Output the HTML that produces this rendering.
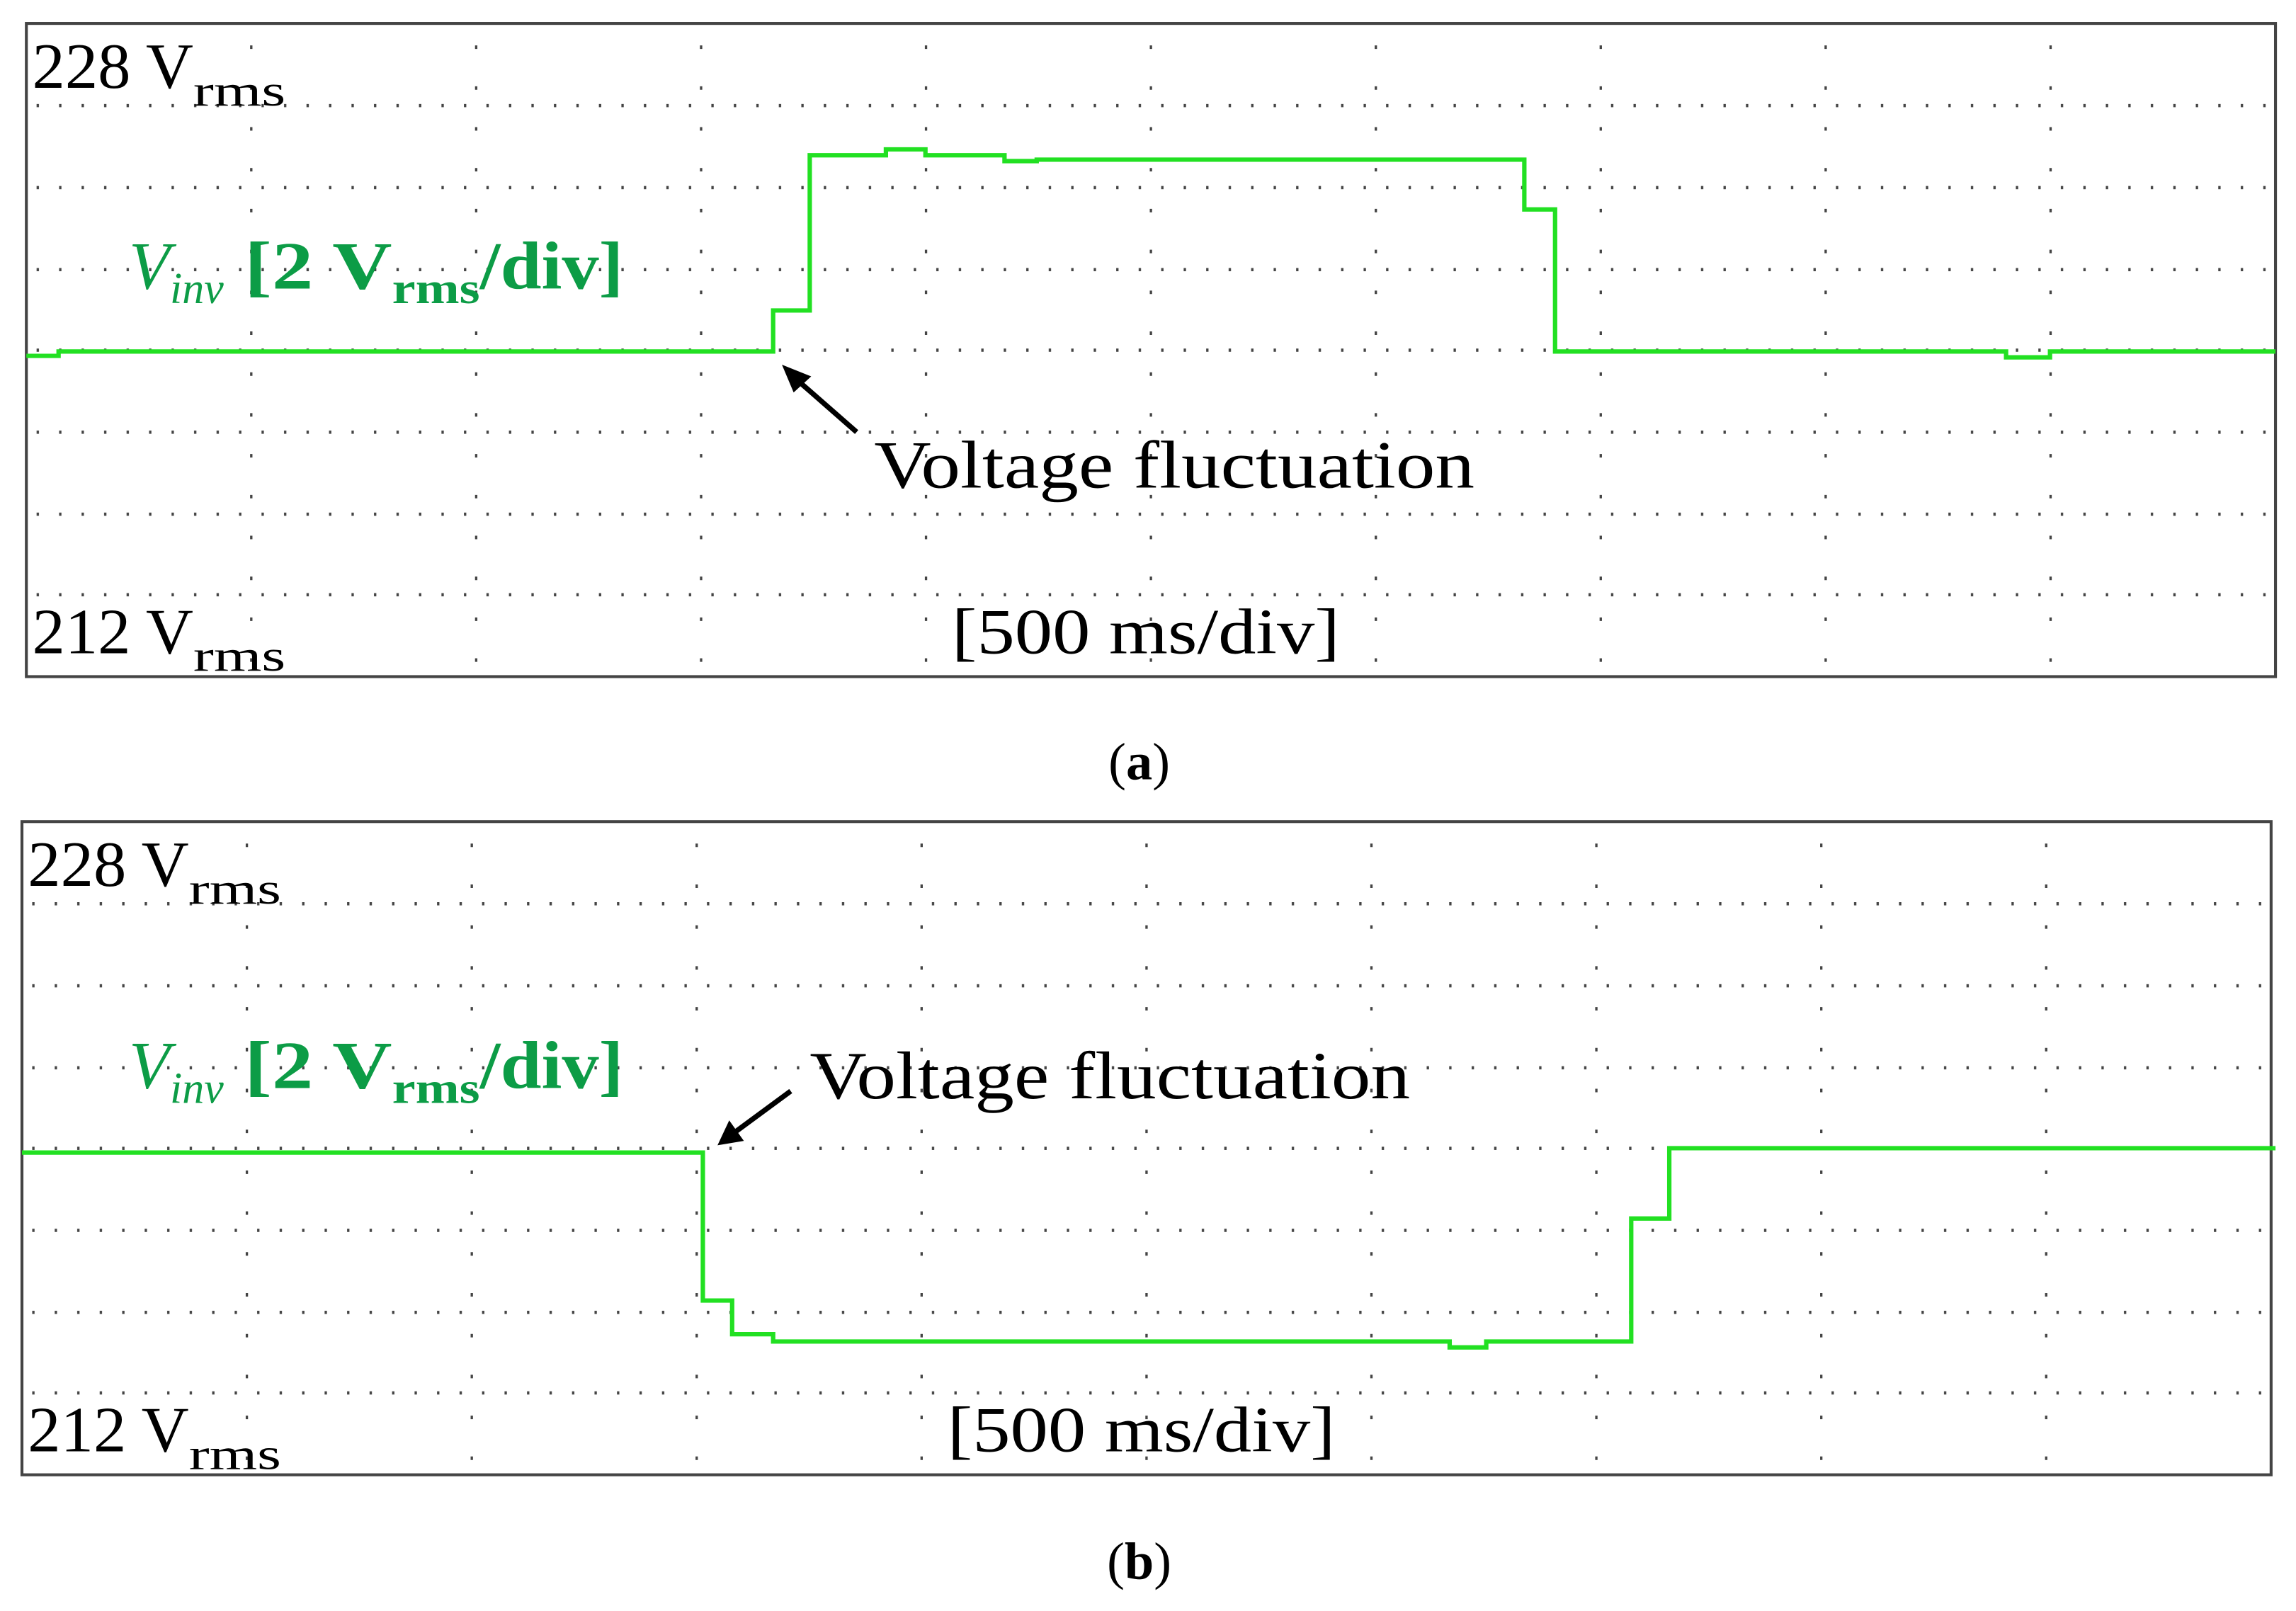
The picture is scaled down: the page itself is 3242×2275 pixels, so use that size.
<!DOCTYPE html>
<html><head><meta charset="utf-8"><style>
html,body{margin:0;padding:0;background:#fff;}
svg{display:block;}
text{font-family:"Liberation Serif",serif;}
</style></head><body>
<svg width="3242" height="2275" viewBox="0 0 1568 1100" preserveAspectRatio="none" xmlns="http://www.w3.org/2000/svg">
<defs>
<pattern id="hd" x="18" y="0" width="15.36" height="1100" patternUnits="userSpaceOnUse">
<rect x="7" y="0" width="1.6" height="1100" fill="#444"/>
</pattern>
<g id="grid">
<g>
<rect x="20" y="71" width="1532" height="2.2" fill="url(#hd)"/>
<rect x="20" y="127" width="1532" height="2.2" fill="url(#hd)"/>
<rect x="20" y="183" width="1532" height="2.2" fill="url(#hd)"/>
<rect x="20" y="238" width="1532" height="2.2" fill="url(#hd)"/>
<rect x="20" y="294" width="1532" height="2.2" fill="url(#hd)"/>
<rect x="20" y="350" width="1532" height="2.2" fill="url(#hd)"/>
<rect x="20" y="405" width="1532" height="2.2" fill="url(#hd)"/>
</g>
<g stroke="#444" stroke-width="1.6" stroke-dasharray="2.4 25.5" stroke-dashoffset="-15">
<line x1="171.6" y1="16" x2="171.6" y2="462"/>
<line x1="325.2" y1="16" x2="325.2" y2="462"/>
<line x1="478.8" y1="16" x2="478.8" y2="462"/>
<line x1="632.4" y1="16" x2="632.4" y2="462"/>
<line x1="786" y1="16" x2="786" y2="462"/>
<line x1="939.6" y1="16" x2="939.6" y2="462"/>
<line x1="1093.2" y1="16" x2="1093.2" y2="462"/>
<line x1="1246.8" y1="16" x2="1246.8" y2="462"/>
<line x1="1400.4" y1="16" x2="1400.4" y2="462"/>
</g>
<rect x="18" y="16" width="1536" height="446" fill="none" stroke="#444" stroke-width="2"/>
<text x="22" y="60" font-size="44"><tspan textLength="110" lengthAdjust="spacingAndGlyphs">228 V</tspan><tspan font-size="30" dy="12" textLength="63" lengthAdjust="spacingAndGlyphs">rms</tspan></text>
<text x="22" y="446" font-size="44"><tspan textLength="110" lengthAdjust="spacingAndGlyphs">212 V</tspan><tspan font-size="30" dy="12" textLength="63" lengthAdjust="spacingAndGlyphs">rms</tspan></text>
<text x="650" y="446" font-size="44" textLength="265" lengthAdjust="spacingAndGlyphs">[500 ms/div]</text>
</g>
</defs>

<!-- Panel a -->
<use href="#grid"/>
<text x="88" y="197" font-size="46" font-weight="bold" fill="#0c9c46"><tspan font-style="italic" font-weight="normal">V</tspan><tspan font-size="30" dy="10" font-style="italic" font-weight="normal">inv</tspan><tspan dy="-10" textLength="115" lengthAdjust="spacingAndGlyphs"> [2 V</tspan><tspan font-size="30" dy="10" textLength="60" lengthAdjust="spacingAndGlyphs">rms</tspan><tspan dy="-10" textLength="98" lengthAdjust="spacingAndGlyphs">/div]</tspan></text>
<polyline fill="none" stroke="#22e022" stroke-width="3" points="18,243 40,243 40,240 528,240 528,212 553,212 553,106 605,106 605,102 632,102 632,106 686,106 686,110 708,110 708,109 1041,109 1041,143 1062,143 1062,240 1370,240 1370,244 1400,244 1400,240 1554,240"/>
<line x1="585" y1="295" x2="545" y2="260" stroke="#000" stroke-width="3.5"/>
<polygon points="534,249 554,257 542,268" fill="#000"/>
<text x="597" y="333" font-size="46" textLength="410" lengthAdjust="spacingAndGlyphs">Voltage fluctuation</text>
<text x="778" y="532" font-size="36" text-anchor="middle">(<tspan font-weight="bold">a</tspan>)</text>

<!-- Panel b -->
<g transform="translate(-3,545)"><use href="#grid"/></g>
<text x="88" y="743" font-size="46" font-weight="bold" fill="#0c9c46"><tspan font-style="italic" font-weight="normal">V</tspan><tspan font-size="30" dy="10" font-style="italic" font-weight="normal">inv</tspan><tspan dy="-10" textLength="115" lengthAdjust="spacingAndGlyphs"> [2 V</tspan><tspan font-size="30" dy="10" textLength="60" lengthAdjust="spacingAndGlyphs">rms</tspan><tspan dy="-10" textLength="98" lengthAdjust="spacingAndGlyphs">/div]</tspan></text>
<polyline fill="none" stroke="#22e022" stroke-width="3" points="15,787 480,787 480,888 500,888 500,911 528,911 528,916 990,916 990,920 1015,920 1015,916 1114,916 1114,832 1140,832 1140,784 1554,784"/>
<line x1="540" y1="745" x2="502" y2="773" stroke="#000" stroke-width="3.5"/>
<polygon points="490,782 498,765 508,779" fill="#000"/>
<text x="553" y="750" font-size="46" textLength="410" lengthAdjust="spacingAndGlyphs">Voltage fluctuation</text>
<text x="778" y="1078" font-size="36" text-anchor="middle">(<tspan font-weight="bold">b</tspan>)</text>
</svg>
</body></html>
